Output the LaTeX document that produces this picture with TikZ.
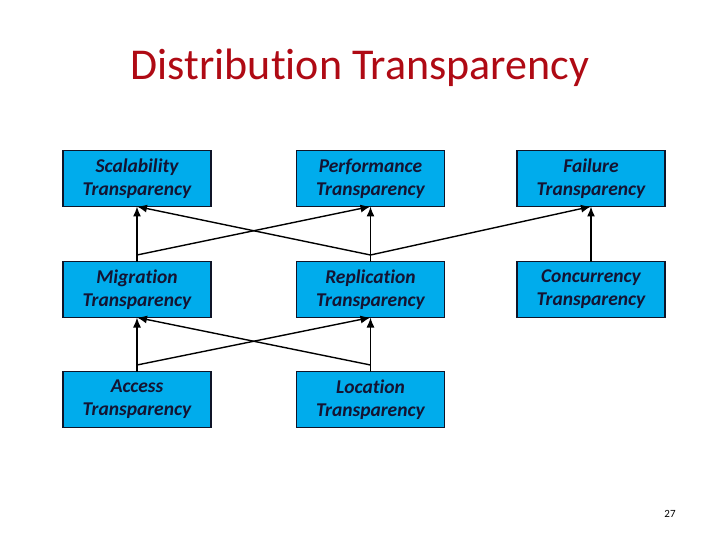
\documentclass[tikz,border=0pt]{standalone}
\usepackage{fontspec}
\setmainfont[Ligatures=NoCommon]{Carlito}
\usetikzlibrary{arrows.meta}
\definecolor{boxblue}{RGB}{0,172,236}
\definecolor{titlered}{RGB}{175,10,20}
\definecolor{boxtext}{RGB}{20,20,50}
\definecolor{boxline}{RGB}{15,20,40}
\tikzset{
  tbox/.style={draw=boxline, line width=1.3pt, fill=boxblue, minimum width=148pt, minimum height=56pt,
    align=center, font=\fontsize{19.5}{23}\selectfont\bfseries\itshape, text=boxtext, inner sep=0pt, outer sep=0pt},
  link/.style={line width=1.4pt},
  arr/.style={line width=1.4pt, -{Latex[length=10pt,width=8pt]}}
}
\begin{document}
\begin{tikzpicture}[x=1pt,y=-1pt]
\useasboundingbox (0,0) rectangle (720,540);
\node[font=\fontsize{44}{48}\selectfont, text=titlered] (title) at (360,68) {Distribution Transparency};
\node[tbox] (scal) at (137,178.5) {Scalability\\Transparency};
\node[tbox] (perf) at (370.5,178.5) {Performance\\Transparency};
\node[tbox] (fail) at (591,178.5) {Failure\\Transparency};
\node[tbox] (migr) at (137,289.5) {Migration\\Transparency};
\node[tbox] (repl) at (370.5,289.5) {Replication\\Transparency};
\node[tbox] (conc) at (591,289.5) {Concurrency\\Transparency};
\node[tbox] (acc) at (137,399.5) {Access\\Transparency};
\node[tbox] (loc) at (370.5,399.5) {Location\\Transparency};
\node[font=\fontsize{11}{12}\selectfont] (pg) at (670,514) {27};
\coordinate (m) at (137,255);
\coordinate (r) at (370.5,255);
\coordinate (c) at (591,255);
\coordinate (a) at (137,365);
\coordinate (l) at (370.5,365);
\draw[link] (migr.north) -- (m);
\draw[link] (repl.north) -- (r);
\draw[link] (conc.north) -- (c);
\draw[link] (acc.north) -- (a);
\draw[link] (loc.north) -- (l);
\draw[arr] (m) -- (scal.south);
\draw[arr] (m) -- (perf.south);
\draw[arr] (r) -- (scal.south);
\draw[arr] (r) -- (perf.south);
\draw[arr] (r) -- (fail.south);
\draw[arr] (c) -- (fail.south);
\draw[arr] (a) -- (migr.south);
\draw[arr] (a) -- (repl.south);
\draw[arr] (l) -- (migr.south);
\draw[arr] (l) -- (repl.south);
\end{tikzpicture}
\end{document}
